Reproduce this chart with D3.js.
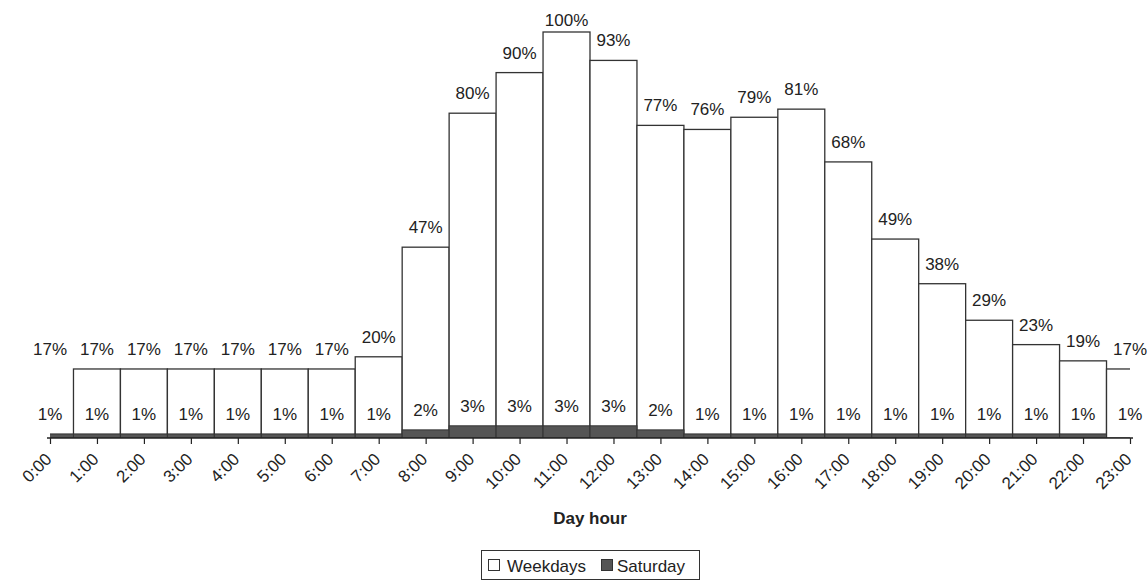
<!DOCTYPE html>
<html>
<head>
<meta charset="utf-8">
<script src="https://cdn.jsdelivr.net/npm/d3@7"></script>
<style>
  body { margin: 0; background: #fff; }
  text { font-family: "Liberation Sans", Arial, sans-serif; fill: #222; }
</style>
</head>
<body>
<svg id="chart"></svg>
<script>
// hourly activity, share of peak hour
let hours = ["0:00","1:00","2:00","3:00","4:00","5:00","6:00","7:00","8:00","9:00","10:00","11:00",
             "12:00","13:00","14:00","15:00","16:00","17:00","18:00","19:00","20:00","21:00","22:00","23:00"];
let weekdays = [17,17,17,17,17,17,17,20,47,80,90,100,93,77,76,79,81,68,49,38,29,23,19,17];
let saturday = [1,1,1,1,1,1,1,1,2,3,3,3,3,2,1,1,1,1,1,1,1,1,1,1];
let seriesNames = ["Weekdays", "Saturday"];

var width = 1147,
    height = 581;

var svg = d3.select("#chart")
    .attr("width", width)
    .attr("height", height);

var x = d3.scalePoint()
    .domain(hours)
    .range([50, 1130]);
var step = x.step();

var y = d3.scaleLinear()
    .domain([0, 100])
    .range([438, 32]);

// plot area clips the half bars at both ends
svg.append("defs").append("clipPath")
    .attr("id", "plot")
    .append("rect")
    .attr("x", x(hours[0]))
    .attr("y", 0)
    .attr("width", x(hours[23]) - x(hours[0]))
    .attr("height", y(0));

var wk = hours.map(function (h, i) { return {hour: h, v: weekdays[i], i: i}; });
var sat = hours.map(function (h, i) { return {hour: h, v: saturday[i], i: i}; });

var bars = svg.append("g").attr("clip-path", "url(#plot)");

// the source chart leaves out the first weekday bar and the last saturday bar
bars.selectAll(".wk")
    .data(wk.filter(function (d) { return d.i > 0; }))
    .enter().append("rect")
    .attr("class", "wk")
    .attr("x", function (d) { return x(d.hour) - step / 2; })
    .attr("y", function (d) { return y(d.v); })
    .attr("width", step)
    .attr("height", function (d) { return y(0) - y(d.v); })
    .style("fill", "#fff")
    .style("stroke", "#333")
    .style("stroke-width", 1.3);

bars.selectAll(".sat")
    .data(sat.filter(function (d) { return d.i < 23; }))
    .enter().append("rect")
    .attr("class", "sat")
    .attr("x", function (d) { return x(d.hour) - step / 2; })
    .attr("y", function (d) { return y(d.v); })
    .attr("width", step)
    .attr("height", function (d) { return y(0) - y(d.v); })
    .style("fill", "#555")
    .style("stroke", "#333")
    .style("stroke-width", 1);

// value labels
svg.append("g").selectAll("text")
    .data(wk)
    .enter().append("text")
    .attr("x", function (d) { return x(d.hour); })
    .attr("y", function (d) { return Math.max(y(d.v) - 14, 26); })
    .style("text-anchor", "middle")
    .style("font-size", "17px")
    .text(function (d) { return d.v + "%"; });

svg.append("g").selectAll("text")
    .data(sat)
    .enter().append("text")
    .attr("x", function (d) { return x(d.hour); })
    .attr("y", function (d) { return y(d.v) - 14; })
    .style("text-anchor", "middle")
    .style("font-size", "17px")
    .text(function (d) { return d.v + "%"; });

// x axis
var xAxis = d3.axisBottom(x)
    .tickSize(6)
    .tickSizeOuter(0);

var gx = svg.append("g")
    .attr("transform", "translate(0," + y(0) + ")")
    .call(xAxis);
gx.select(".domain")
    .attr("d", "M47,0H1133")
    .style("stroke", "#222")
    .style("stroke-width", 1.5);
gx.selectAll(".tick line")
    .style("stroke", "#222")
    .style("stroke-width", 1.2);
gx.selectAll(".tick text")
    .style("font-size", "17px")
    .style("font-family", "Liberation Sans, Arial, sans-serif")
    .style("fill", "#222")
    .style("text-anchor", "end")
    .attr("x", 0)
    .attr("y", 0)
    .attr("dy", "0.35em")
    .attr("transform", "translate(-2,18) rotate(-45)");

svg.append("text")
    .attr("x", (x(hours[0]) + x(hours[23])) / 2)
    .attr("y", 524)
    .style("text-anchor", "middle")
    .style("font-size", "17px")
    .style("font-weight", "bold")
    .text("Day hour");

// legend
var lg = svg.append("g");
lg.append("rect")
    .attr("x", 481.5)
    .attr("y", 550.5)
    .attr("width", 218)
    .attr("height", 29)
    .style("fill", "#fff")
    .style("stroke", "#333")
    .style("stroke-width", 1);

var legendItems = [
    {name: seriesNames[0], fill: "#fff", sx: 488, tx: 507},
    {name: seriesNames[1], fill: "#555", sx: 601, tx: 617}
];
legendItems.forEach(function (it) {
    lg.append("rect")
        .attr("x", it.sx + 0.5)
        .attr("y", 559.5)
        .attr("width", 11)
        .attr("height", 11)
        .style("fill", it.fill)
        .style("stroke", "#333")
        .style("stroke-width", 1);
    lg.append("text")
        .attr("x", it.tx)
        .attr("y", 572)
        .style("font-size", "17px")
        .text(it.name);
});
</script>
</body>
</html>
